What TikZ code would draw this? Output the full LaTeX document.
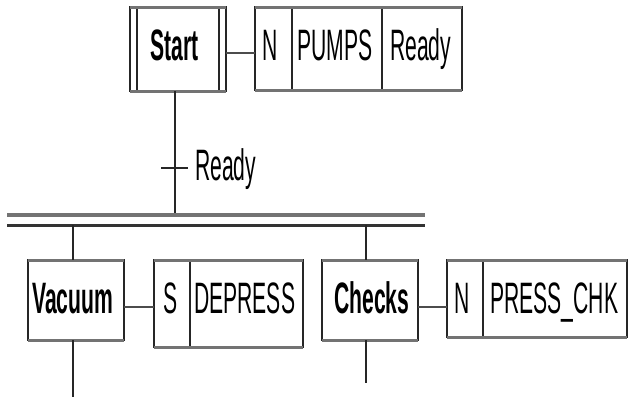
\documentclass[tikz,border=0pt]{standalone}
\usepackage{fontspec}
\newfontfamily\gfont[FakeStretch=0.48]{Liberation Sans}
\begin{document}
\begin{tikzpicture}[x=1pt,y=-1pt,
  box/.style={draw=black!85, line width=1.2pt, inner sep=0pt, outer sep=0pt, fill=white},
  txt/.style={font=\gfont\fontsize{44}{46}\selectfont, inner sep=0pt, anchor=base west},
  btxt/.style={font=\gfont\bfseries\fontsize{44}{46}\selectfont, inner sep=0pt, anchor=base west},
  wire/.style={line width=1.2pt, draw=black!85},
  hwire/.style={line width=1.8pt, draw=black!70},
  edgeline/.style={line width=3pt, draw=black!55},
  barline/.style={line width=4.5pt, draw=black!55},
  barlinetwo/.style={line width=3pt, draw=black!80}
]
\useasboundingbox (0,0) rectangle (639,408);
% initial step
\node[box, minimum width=96pt, minimum height=84pt] (start) at (178,49) {};
\draw[wire] ([xshift=7pt]start.north west) -- ([xshift=7pt]start.south west);
\draw[wire] ([xshift=-7pt]start.north east) -- ([xshift=-7pt]start.south east);
\draw[edgeline] (start.north west) -- (start.north east);
\draw[edgeline] (start.south west) -- (start.south east);
\node[btxt] (tstart) at (150,60) {Start};
% top action
\node[box, minimum width=37pt, minimum height=83pt] (a1n) at (273.5,48.5) {};
\node[box, minimum width=90pt, minimum height=83pt] (a1p) at (337,48.5) {};
\node[box, minimum width=80pt, minimum height=83pt] (a1r) at (422,48.5) {};
\draw[edgeline] (a1n.north west) -- (a1r.north east);
\draw[edgeline] (a1n.south west) -- (a1r.south east);
\node[txt] (ta1n) at (262,60) {N};
\node[txt] (ta1p) at (297,60) {PUMPS};
\node[txt] (ta1r) at (390,60) {Ready};
\draw[hwire] (start.east |- 0,53) -- (a1n.west |- 0,53);
% transition
\coordinate (t1) at (175,168);
\coordinate (barL) at (7,215);
\coordinate (barR) at (425,215);
\draw[wire] (start.south -| t1) -- (t1 |- barL);
\draw[wire] ([xshift=-14pt]t1) -- ([xshift=13pt]t1);
\node[txt] (tlabel) at (195,180) {Ready};
% simultaneous divergence
\draw[barline] (barL) -- (barR);
\coordinate (bar2L) at (7,225);
\coordinate (bar2R) at (425,225);
\draw[barlinetwo] (bar2L) -- (bar2R);
% lower steps
\node[box, minimum width=96pt, minimum height=80pt] (vac) at (76,300) {};
\node[box, minimum width=96pt, minimum height=80pt] (chk) at (370,300) {};
\foreach \n in {vac,chk}{
  \draw[edgeline] (\n.north west) -- (\n.north east);
  \draw[edgeline] (\n.south west) -- (\n.south east);
}
\node[btxt] (tvac) at (32,313) {Vacuum};
\node[btxt] (tchk) at (334,313) {Checks};
% lower actions
\node[box, minimum width=36pt, minimum height=87pt] (s1) at (172,303.5) {};
\node[box, minimum width=113pt, minimum height=87pt] (dep) at (246.5,303.5) {};
\draw[edgeline] (s1.north west) -- (dep.north east);
\draw[edgeline] (s1.south west) -- (dep.south east);
\node[box, minimum width=36pt, minimum height=77pt] (n2) at (465,298.5) {};
\node[box, minimum width=144pt, minimum height=77pt] (pc) at (555,298.5) {};
\draw[edgeline] (n2.north west) -- (pc.north east);
\draw[edgeline] (n2.south west) -- (pc.south east);
\node[txt] (ts1) at (163,313) {S};
\node[txt] (tdep) at (194,313) {DEPRESS};
\node[txt] (tn2) at (454,313) {N};
\node[txt] (tpc) at (490,313) {PRESS\_CHK};
\draw[hwire] (vac.east |- 0,307) -- (s1.west |- 0,307);
\draw[hwire] (chk.east |- 0,307) -- (n2.west |- 0,307);
% branches
\coordinate (vend) at (73,397);
\coordinate (cend) at (366,383);
\draw[wire] (vend |- bar2L) -- (vac.north -| vend);
\draw[wire] (cend |- bar2L) -- (chk.north -| cend);
\draw[wire] (vac.south -| vend) -- (vend);
\draw[wire] (chk.south -| cend) -- (cend);
\end{tikzpicture}
\end{document}
